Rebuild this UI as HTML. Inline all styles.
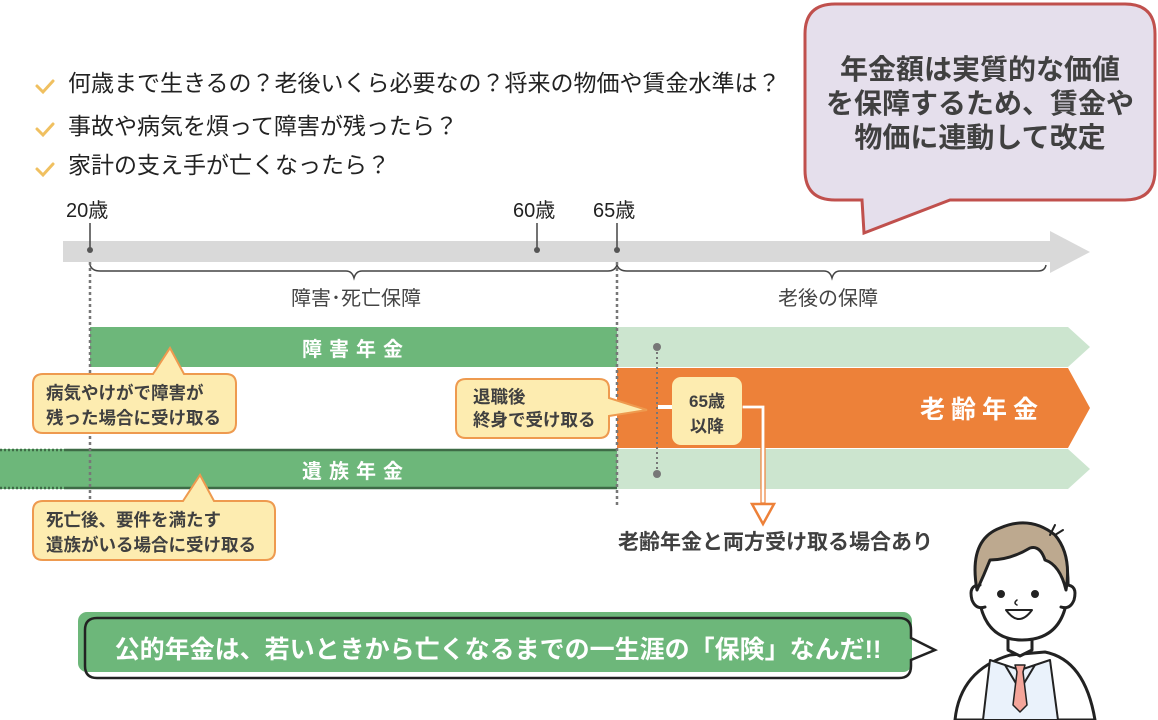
<!DOCTYPE html>
<html><head><meta charset="utf-8"><style>
body{margin:0;background:#fff;}
svg{display:block;font-family:"Liberation Sans","Noto Sans CJK JP",sans-serif;}
.b{font-weight:bold;}
</style></head><body>
<svg width="1158" height="720" viewBox="0 0 1158 720" xmlns="http://www.w3.org/2000/svg">
<!-- checklist -->
<g fill="none" stroke="#f0c060" stroke-width="3" stroke-linecap="round">
<path d="M37 86 L43 92 L53 81"/><path d="M37 129 L43 135 L53 124"/><path d="M37 169 L43 175 L53 164"/>
</g>
<g font-size="23" fill="#222">
<text x="68" y="91">何歳まで生きるの？老後いくら必要なの？将来の物価や賃金水準は？</text>
<text x="68" y="134">事故や病気を煩って障害が残ったら？</text>
<text x="68" y="173">家計の支え手が亡くなったら？</text>
</g>
<!-- top bubble -->
<path d="M835 4 H1125 Q1155 4 1155 34 V170 Q1155 200 1125 200 H950 L864 233 L862 200 H835 Q805 200 805 170 V34 Q805 4 835 4 Z" fill="#e5dfec" stroke="#c0504d" stroke-width="3"/>
<g font-size="28" class="b" fill="#404040" text-anchor="middle">
<text x="980" y="79">年金額は実質的な価値</text>
<text x="980" y="113">を保障するため、賃金や</text>
<text x="980" y="147">物価に連動して改定</text>
</g>
<!-- timeline -->
<path d="M63 241 H1050 V231 L1090 252 L1050 273 V262 H63 Z" fill="#d9d9d9"/>
<g font-size="20" fill="#222">
<text x="66" y="217">20歳</text><text x="513" y="217">60歳</text><text x="593" y="217">65歳</text>
</g>
<g stroke="#444" stroke-width="1.5"><line x1="90" y1="223" x2="90" y2="250"/><line x1="537" y1="223" x2="537" y2="250"/><line x1="617" y1="223" x2="617" y2="250"/></g>
<g fill="#555"><circle cx="90" cy="250" r="3"/><circle cx="537" cy="250" r="3"/><circle cx="617" cy="250" r="3"/></g>
<g fill="none" stroke="#444" stroke-width="1.5">
<path d="M90 265 Q92 271 100 271 H346 Q352 271 354 278 Q356 271 362 271 H608 Q615 271 617 265"/>
<path d="M617 265 Q619 271 627 271 H824 Q830 271 832 278 Q834 271 840 271 H1038 Q1045 271 1046 265"/>
</g>
<g font-size="20" fill="#444" text-anchor="middle"><text x="356" y="305">障害･死亡保障</text><text x="828" y="305">老後の保障</text></g>
<!-- bars -->
<path d="M617 327 H1068 L1090 347 L1068 367 H617 Z" fill="#cce5cf"/>
<path d="M617 449 H1068 L1090 469 L1068 489 H617 Z" fill="#cce5cf"/>
<rect x="90" y="327" width="527" height="40" fill="#6db77a"/>
<path d="M617 368 H1068 L1090 408 L1068 448 H617 Z" fill="#ed8139"/>
<rect x="0" y="449" width="617" height="40" fill="#6db77a"/>
<line x1="66" y1="450" x2="617" y2="450" stroke="#3e6b46" stroke-width="2.5"/>
<line x1="66" y1="488" x2="617" y2="488" stroke="#3e6b46" stroke-width="2.5"/>
<line x1="0" y1="450" x2="66" y2="450" stroke="#3e6b46" stroke-width="2.5" stroke-dasharray="2 2"/>
<line x1="0" y1="488" x2="66" y2="488" stroke="#3e6b46" stroke-width="2.5" stroke-dasharray="2 2"/>
<g stroke="#777" stroke-width="2.5" stroke-dasharray="3 3"><line x1="90" y1="262" x2="90" y2="505"/><line x1="617" y1="262" x2="617" y2="505"/></g>
<g font-size="20" class="b" fill="#fff" text-anchor="middle" letter-spacing="7">
<text x="356" y="356">障害年金</text><text x="356" y="478">遺族年金</text>
</g>
<text x="982" y="418" font-size="25" class="b" fill="#fff" text-anchor="middle" letter-spacing="6">老齢年金</text>
<line x1="657" y1="347" x2="657" y2="474" stroke="#777" stroke-width="2" stroke-dasharray="2 3"/>
<circle cx="657" cy="347" r="4" fill="#777"/><circle cx="657" cy="474" r="4" fill="#777"/>
<!-- connector -->
<path d="M658 405 H672 V409 H658 Z" fill="#fff"/>
<path d="M742 405 H765 V503 H761 V409 H742 Z" fill="#fff" stroke="#ed8139" stroke-width="1.2"/>
<path d="M752 504 H774 L763 524 Z" fill="#fff" stroke="#ed8139" stroke-width="2.5"/>
<rect x="672" y="377" width="70" height="68" rx="9" fill="#fdecb0"/>
<g font-size="17" class="b" fill="#404040" text-anchor="middle"><text x="707" y="407">65歳</text><text x="707" y="432">以降</text></g>
<text x="618" y="549" font-size="21" class="b" fill="#404040">老齢年金と両方受け取る場合あり</text>
<!-- callouts -->
<g fill="#fdecb0" stroke="#ee9a4f" stroke-width="2">
<path d="M43 374 H153 L170 348 L184 374 H226 Q236 374 236 384 V423 Q236 433 226 433 H43 Q33 433 33 423 V384 Q33 374 43 374 Z"/>
<path d="M466 379 H599 Q609 379 609 389 V398 L647 410 L609 416 V428 Q609 438 599 438 H466 Q456 438 456 428 V389 Q456 379 466 379 Z"/>
<path d="M43 501 H183 L200 475 L214 501 H265 Q275 501 275 511 V550 Q275 560 265 560 H43 Q33 560 33 550 V511 Q33 501 43 501 Z"/>
</g>
<g font-size="17.5" class="b" fill="#404040">
<text x="46" y="399">病気やけがで障害が</text><text x="46" y="424">残った場合に受け取る</text>
<text x="473" y="403">退職後</text><text x="473" y="426">終身で受け取る</text>
<text x="46" y="526">死亡後、要件を満たす</text><text x="46" y="551">遺族がいる場合に受け取る</text>
</g>
<!-- banner -->
<rect x="78" y="612" width="834" height="60" rx="9" fill="#6db77a"/>
<path d="M97 618 H899 Q911 618 911 630 V638 L935 650 L911 660 V666 Q911 678 899 678 H97 Q85 678 85 666 V630 Q85 618 97 618 Z" fill="none" stroke="#222" stroke-width="2.5"/>
<text x="498" y="658" font-size="25" class="b" fill="#fff" text-anchor="middle">公的年金は、若いときから亡くなるまでの一生涯の「保険」なんだ!!</text>
<!-- person -->
<g stroke="#222" stroke-width="3" stroke-linejoin="round" stroke-linecap="round">
<path d="M955 720 Q960 670 1010 655 L1045 652 Q1085 660 1095 720 Z" fill="#fff"/>
<path d="M983 720 L990 660 L1020 670 L1050 660 L1058 720 Z" fill="#eaf2fb" stroke-width="2"/>
<path d="M1005 665 L1020 690 L1035 665" fill="none" stroke-width="2"/>
<path d="M1015 665 H1025 L1023 672 L1027 705 L1020 712 L1013 705 L1017 672 Z" fill="#f4a59a" stroke-width="1.5"/>
<path d="M1008 630 V650 L1020 656 L1032 650 V630 Z" fill="#fff"/>
<path d="M978 590 Q975 530 1025 527 Q1070 528 1068 590 Q1065 640 1022 640 Q982 640 978 590 Z" fill="#fff"/>
<path d="M980 585 Q968 585 972 600 Q976 610 985 607" fill="#fff"/>
<path d="M1066 585 Q1078 585 1074 600 Q1070 610 1061 607" fill="#fff"/>
<path d="M977 590 Q968 540 1000 528 Q1030 515 1055 535 Q1072 555 1066 590 Q1060 565 1045 560 Q1040 545 1030 548 Q1010 560 990 560 Q984 575 977 590 Z" fill="#bda98f"/>
<path d="M1050 535 L1055 525 M1055 535 L1063 530" fill="none" stroke-width="2"/>
<circle cx="1001" cy="594" r="2.5" fill="#222"/><circle cx="1035" cy="594" r="2.5" fill="#222"/>
<path d="M1006 610 Q1019 628 1032 610 Z" fill="#fff" stroke-width="2"/>
<path d="M1017 600 Q1013 603 1017 605" fill="none" stroke-width="1.5"/>
</g>
</svg>
</body></html>
